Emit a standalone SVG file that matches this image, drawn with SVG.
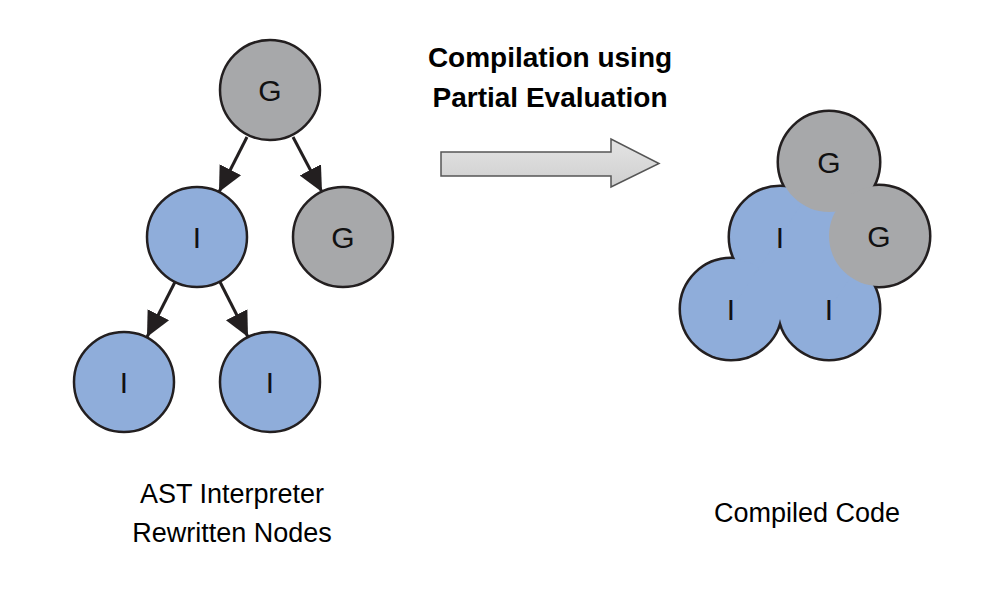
<svg xmlns="http://www.w3.org/2000/svg" width="983" height="595" viewBox="0 0 983 595">
<defs>
<style>
.g{fill:#a7a8aa;stroke:#231f20;stroke-width:2.5}
.i{fill:#8fadda;stroke:#231f20;stroke-width:2.5}
.lbl{font-family:"Liberation Sans",Arial,sans-serif;font-size:30px;fill:#111;text-anchor:middle}
.cap{font-family:"Liberation Sans",Arial,sans-serif;font-size:27px;fill:#000;text-anchor:middle}
.title{font-family:"Liberation Sans",Arial,sans-serif;font-size:28px;font-weight:bold;fill:#000;text-anchor:middle}
.edge{stroke:#231f20;stroke-width:3;fill:none}
.ol{stroke:#231f20;stroke-width:5}
.bf{fill:#8fadda}
.gf{fill:#a7a8aa}
</style>
<marker id="ah" markerUnits="userSpaceOnUse" markerWidth="26" markerHeight="26" refX="25" refY="12" orient="auto" viewBox="0 0 26 24">
<path d="M0,0 L25,12 L0,24 z" fill="#231f20"/>
</marker>
<linearGradient id="bar" x1="0" y1="0" x2="0" y2="1">
<stop offset="0" stop-color="#e4e4e4"/>
<stop offset="1" stop-color="#cfcfcf"/>
</linearGradient>
</defs>
<rect width="983" height="595" fill="#fff"/>
<g id="connectors">
<line class="edge" x1="247" y1="137" x2="219" y2="192" marker-end="url(#ah)"/>
<line class="edge" x1="293" y1="137" x2="322" y2="192" marker-end="url(#ah)"/>
<line class="edge" x1="175" y1="282" x2="147" y2="337" marker-end="url(#ah)"/>
<line class="edge" x1="220" y1="282" x2="248" y2="337" marker-end="url(#ah)"/>
</g>
<g id="node-g-top"><circle class="g" cx="270" cy="90" r="50"/><text class="lbl" x="270" y="101">G</text></g>
<g id="node-i-mid"><circle class="i" cx="197" cy="237" r="50"/><text class="lbl" x="197" y="248">I</text></g>
<g id="node-g-right"><circle class="g" cx="343" cy="237" r="50"/><text class="lbl" x="343" y="248">G</text></g>
<g id="node-i-left"><circle class="i" cx="124" cy="382" r="50"/><text class="lbl" x="124" y="393">I</text></g>
<g id="node-i-right"><circle class="i" cx="270" cy="382" r="50"/><text class="lbl" x="270" y="393">I</text></g>
<g id="big-arrow">
<path d="M441,152 L611,152 L611,139 L659,163.5 L611,187 L611,176 L441,176 Z" fill="url(#bar)" stroke="#555" stroke-width="1.5"/>
</g>
<g id="title">
<text class="title" x="550" y="67">Compilation using</text>
<text class="title" x="550" y="107">Partial Evaluation</text>
</g>
<g id="compiled">
<g id="outline" fill="#231f20">
<circle class="ol" cx="780" cy="237" r="50"/>
<circle class="ol" cx="731" cy="309" r="50"/>
<circle class="ol" cx="829" cy="309" r="50"/>
<circle class="ol" cx="829" cy="162" r="50"/>
<circle class="ol" cx="879" cy="236" r="50"/>
</g>
<circle class="bf" cx="780" cy="237" r="50"/>
<circle class="bf" cx="731" cy="309" r="50"/>
<circle class="bf" cx="829" cy="309" r="50"/>
<polygon class="bf" points="780,237 731,309 829,309 879,236 829,162"/>
<circle class="gf" cx="829" cy="162" r="50"/>
<circle class="gf" cx="879" cy="236" r="50"/>
<text class="lbl" x="829" y="173">G</text>
<text class="lbl" x="879" y="247">G</text>
<text class="lbl" x="780" y="248">I</text>
<text class="lbl" x="731" y="320">I</text>
<text class="lbl" x="829" y="320">I</text>
</g>
<g id="captions">
<text class="cap" x="232" y="503">AST Interpreter</text>
<text class="cap" x="232" y="542">Rewritten Nodes</text>
<text class="cap" x="807" y="522">Compiled Code</text>
</g>
</svg>
